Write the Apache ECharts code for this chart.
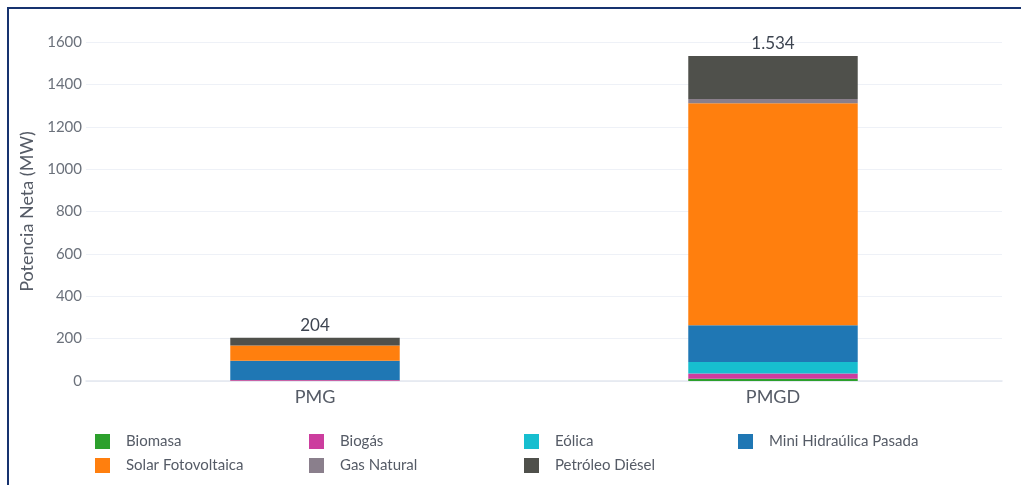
<!DOCTYPE html>
<html><head><meta charset="utf-8">
<script src="https://cdn.jsdelivr.net/npm/echarts@6/dist/echarts.min.js"></script>
<style>
html,body{margin:0;padding:0;background:#fff;}
#chart{position:absolute;left:0;top:0;width:1021px;height:485px;}
#frame{position:absolute;left:7px;top:7px;width:1014px;height:478px;border-left:2px solid #17336f;border-top:2px solid #17336f;pointer-events:none;}
</style></head>
<body>
<div id="chart"></div>
<div id="frame"></div>
<script>
const categories = ['PMG', 'PMGD'];
const seriesNames = ['Biomasa', 'Biogás', 'Eólica', 'Mini Hidraúlica Pasada', 'Solar Fotovoltaica', 'Gas Natural', 'Petróleo Diésel'];
const biomasa = [1, 11];
const biogas = [4, 24];
const eolica = [0, 55];
const miniHidraulica = [91, 173];
const solar = [71, 1048];
const gasNatural = [0, 20];
const petroleo = [37, 203];
const colors = ['#2ca02c', '#cc3d9e', '#17becf', '#1f77b4', '#ff7f0e', '#8a7f8c', '#4f504b'];
const yTicks = [0, 200, 400, 600, 800, 1000, 1200, 1400, 1600];

const values = [biomasa, biogas, eolica, miniHidraulica, solar, gasNatural, petroleo];
const totals = categories.map((c, i) => values.reduce((s, arr) => s + arr[i], 0));
const fmt = n => String(n).replace(/\B(?=(\d{3})+(?!\d))/g, '.');

const FONT = 'Lato';
const series = seriesNames.map((name, k) => {
  const s = {
    name, type: 'bar', stack: 'total', barWidth: '37%',
    data: values[k], itemStyle: { color: colors[k] }
  };
  if (k === seriesNames.length - 1) {
    s.label = {
      show: true, position: 'top', distance: 4,
      fontFamily: FONT, fontSize: 17, color: '#3d4450',
      formatter: p => fmt(totals[p.dataIndex])
    };
  }
  return s;
});

const legendCols = [[0, 4], [1, 5], [2, 6], [3]];
const legendX = [95, 309, 524, 738];
const legends = legendCols.map((idxs, c) => ({
  orient: 'vertical', left: legendX[c], top: 434,
  itemWidth: 15, itemHeight: 15, itemGap: 9, icon: 'rect',
  selectedMode: false, padding: 0,
  textStyle: { fontFamily: FONT, fontSize: 15, color: '#555b66', padding: [0, 0, 0, 11] },
  data: idxs.map(i => seriesNames[i])
}));

const chart = echarts.init(document.getElementById('chart'));
chart.setOption({
  animation: false,
  backgroundColor: 'transparent',
  color: colors,
  grid: { left: 86, right: 19, top: 42, bottom: 104 },
  legend: legends,
  xAxis: {
    type: 'category', data: categories,
    axisLine: { lineStyle: { color: '#e3e7ef', width: 1.5 } },
    axisTick: { show: false },
    axisLabel: { fontFamily: FONT, fontSize: 18, color: '#555b66', margin: 7 }
  },
  yAxis: {
    type: 'value', min: yTicks[0], max: yTicks[yTicks.length - 1], interval: 200,
    name: 'Potencia Neta (MW)', nameLocation: 'middle', nameGap: 50,
    nameTextStyle: { fontFamily: FONT, fontSize: 18, color: '#555b66' },
    axisLine: { show: false }, axisTick: { show: false },
    axisLabel: { fontFamily: FONT, fontSize: 15, color: '#6b717b', margin: 4, formatter: v => String(v) },
    splitLine: { lineStyle: { color: '#eef1f7', width: 1 } }
  },
  series
});
</script>
</body></html>
